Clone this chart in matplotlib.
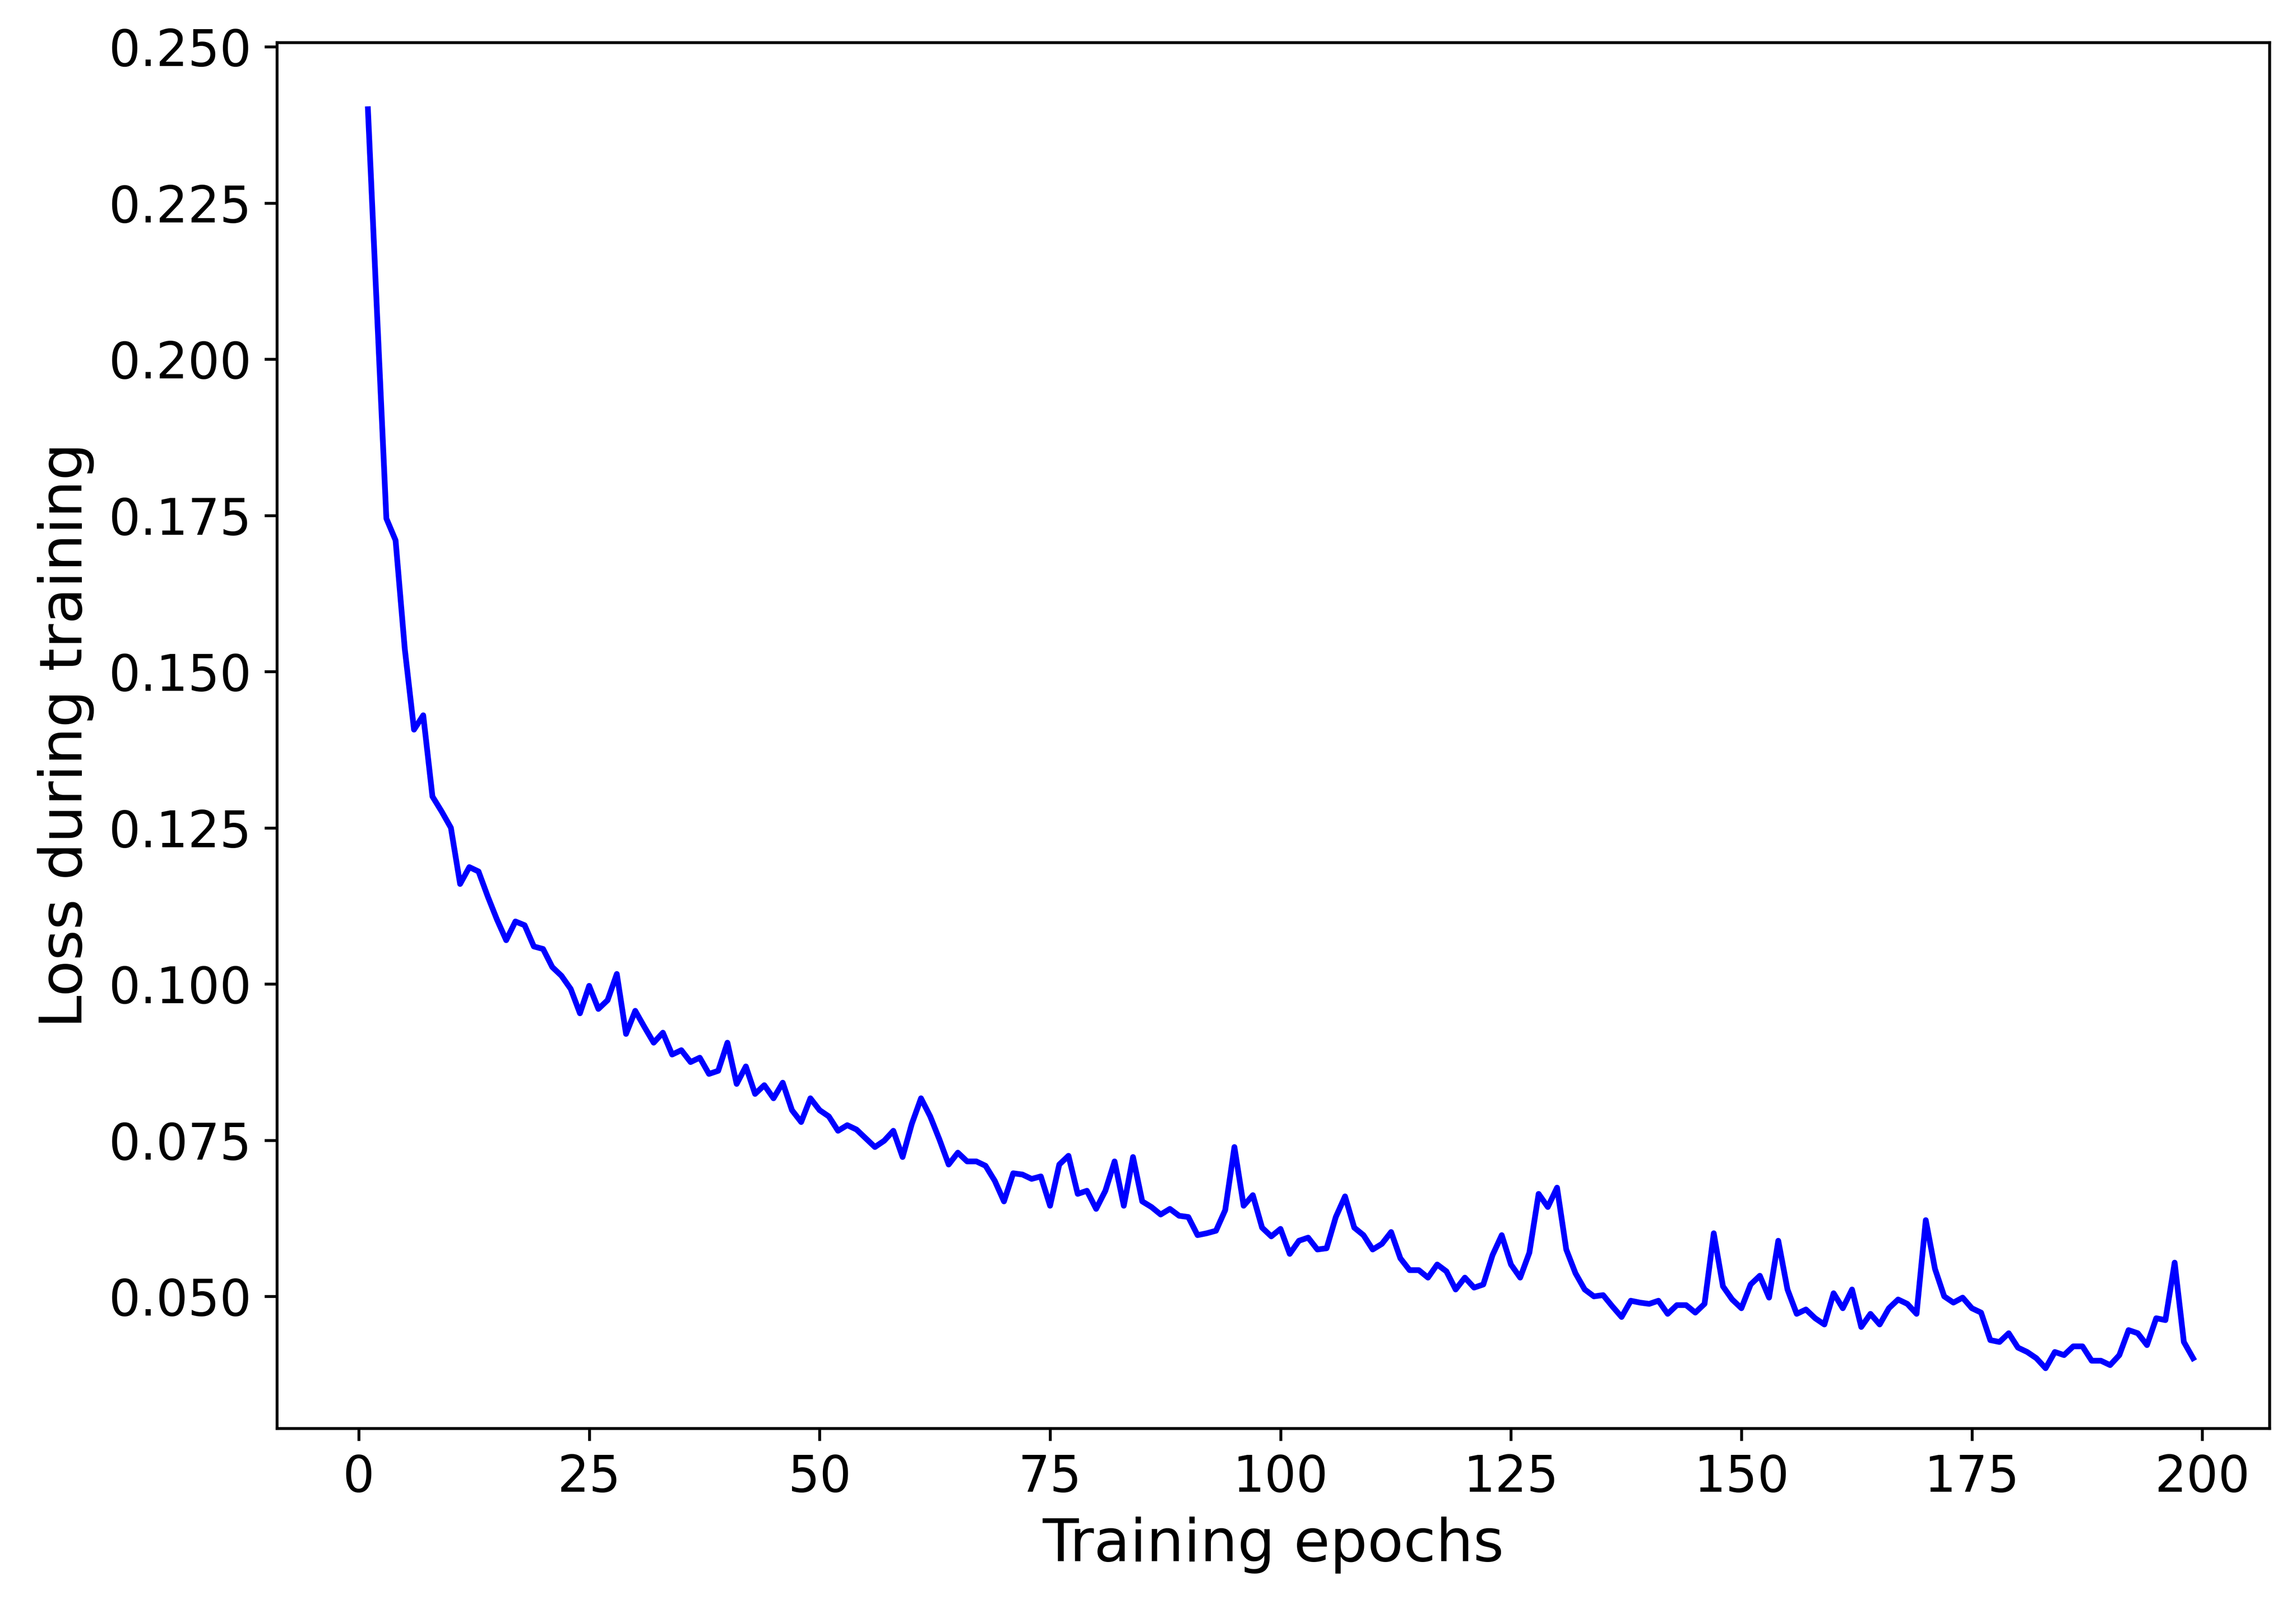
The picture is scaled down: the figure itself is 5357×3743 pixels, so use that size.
import matplotlib
matplotlib.use("Agg")
import matplotlib.pyplot as plt

epochs = list(range(1, 200))
loss = [0.240, 0.207, 0.1745, 0.171, 0.1536, 0.1407, 0.143, 0.130, 0.1276, 0.125,
        0.116, 0.1187, 0.118, 0.114, 0.1103, 0.107, 0.110, 0.1094, 0.106, 0.1056,
        0.1027, 0.1013, 0.0992, 0.0953, 0.0997, 0.096, 0.0974, 0.1016, 0.092, 0.0957,
        0.0931, 0.0906, 0.0922, 0.0887, 0.0894, 0.0875, 0.0882, 0.0856, 0.0861, 0.0906,
        0.084, 0.0868, 0.0824, 0.0838, 0.0817, 0.0842, 0.0798, 0.0779, 0.0817, 0.0798,
        0.0788, 0.0765, 0.0774, 0.0767, 0.0753, 0.0739, 0.0749, 0.0765, 0.0723, 0.0776,
        0.0817, 0.0788, 0.0751, 0.0711, 0.073, 0.0716, 0.0716, 0.0709, 0.0685, 0.0652,
        0.0697, 0.0695, 0.0688, 0.0692, 0.0645, 0.0711, 0.0725, 0.0664, 0.0669, 0.064,
        0.0669, 0.0716, 0.0645, 0.0723, 0.0652, 0.0643, 0.0631, 0.064, 0.0629, 0.0627,
        0.0598, 0.0601, 0.0605, 0.0638, 0.0739, 0.0645, 0.0662, 0.061, 0.0596, 0.0608,
        0.0568, 0.0589, 0.0594, 0.0575, 0.0577, 0.0627, 0.066, 0.061, 0.0598, 0.0575,
        0.0584, 0.0603, 0.0561, 0.0542, 0.0542, 0.053, 0.0551, 0.054, 0.0511, 0.053,
        0.0514, 0.0519, 0.0566, 0.0598, 0.0551, 0.053, 0.057, 0.0664, 0.0643, 0.0674,
        0.0575, 0.0537, 0.0511, 0.050, 0.0502, 0.0484, 0.0467, 0.0493, 0.049, 0.0488,
        0.0493, 0.0472, 0.0486, 0.0486, 0.0474, 0.0488, 0.0601, 0.0516, 0.0495, 0.0481,
        0.0519, 0.0533, 0.0498, 0.0589, 0.0511, 0.0472, 0.0479, 0.0465, 0.0455, 0.0505,
        0.0481, 0.0511, 0.0451, 0.0472, 0.0455, 0.0481, 0.0495, 0.0488, 0.0472, 0.0622,
        0.0544, 0.050, 0.049, 0.0498, 0.0481, 0.0474, 0.043, 0.0427, 0.0441, 0.0418,
        0.0411, 0.0401, 0.0385, 0.0411, 0.0406, 0.042, 0.042, 0.0397, 0.0397, 0.039,
        0.0406, 0.0446, 0.0441, 0.0422, 0.0465, 0.0462, 0.0554, 0.0427, 0.0401]

fig = plt.figure(figsize=(5357/600, 3743/600), dpi=600)
ax = fig.add_axes([0.1205, 0.1096, 0.868, 0.864])
ax.plot(epochs, loss, color="blue", linewidth=1.6)
ax.set_xlim(-8.9, 207.3)
ax.set_ylim(0.0289, 0.2507)
ax.set_xticks([0, 25, 50, 75, 100, 125, 150, 175, 200])
ax.set_yticks([0.050, 0.075, 0.100, 0.125, 0.150, 0.175, 0.200, 0.225, 0.250])
ax.set_yticklabels([f"{v:.3f}" for v in ax.get_yticks()])
ax.tick_params(labelsize=14)
ax.set_xlabel("Training epochs", fontsize=16.5)
ax.set_ylabel("Loss during training", fontsize=16.5)
fig.savefig("out.png", dpi=600)
